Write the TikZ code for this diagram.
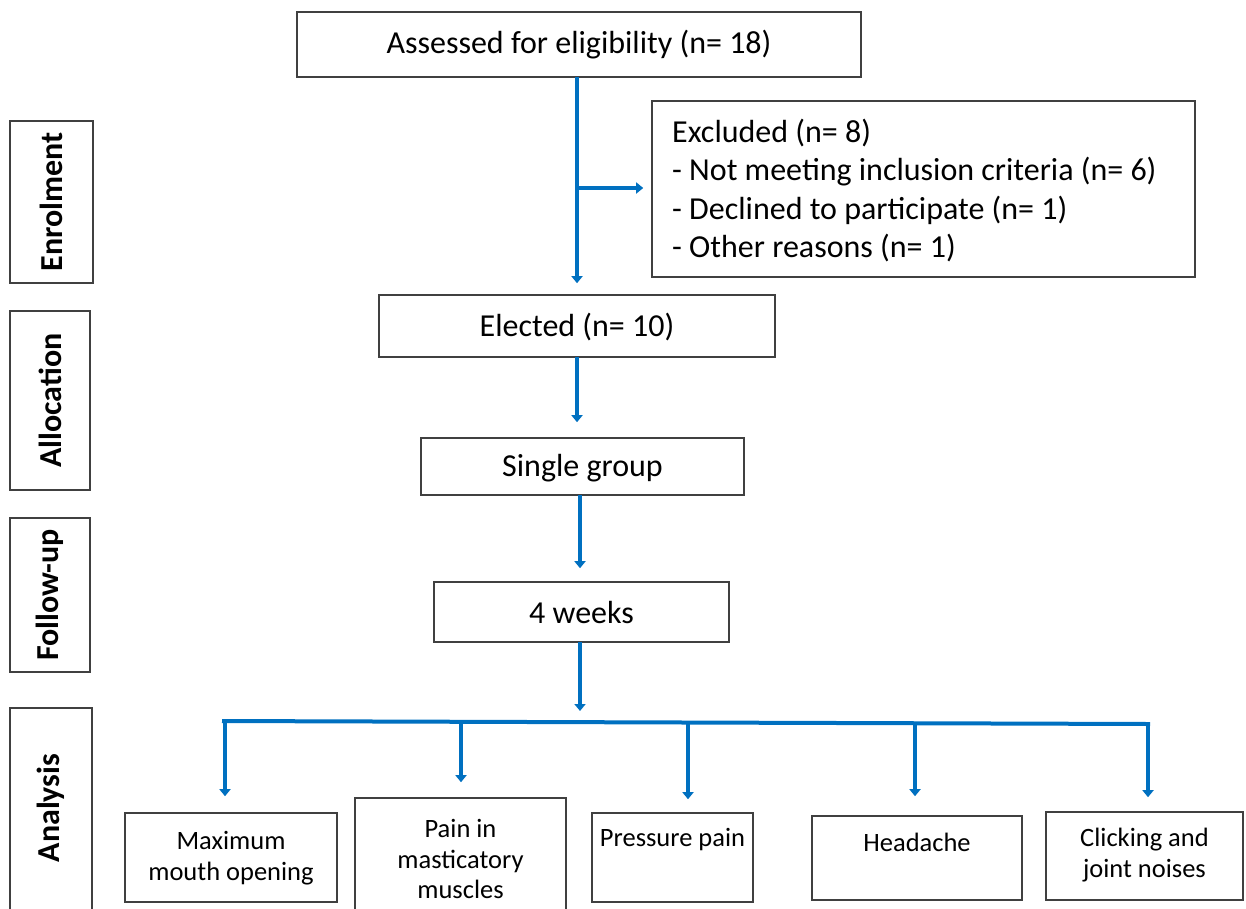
\documentclass[tikz,border=0pt]{standalone}
\usepackage{fontspec}
\setmainfont{Carlito}
\usetikzlibrary{arrows.meta,calc}
\definecolor{cblue}{RGB}{0,112,192}
\definecolor{cgray}{RGB}{64,64,64}
\tikzset{
  box/.style={draw=cgray, line width=1.6pt, fill=white, inner sep=0pt},
  maintext/.style={font=\fontsize{32}{38.5}\selectfont, inner sep=0pt},
  smalltext/.style={font=\fontsize{26.5}{30.5}\selectfont, inner sep=0pt, align=center},
  sidetext/.style={font=\fontsize{32}{36}\selectfont\bfseries, rotate=90, inner sep=0pt},
  arr/.style={draw=cblue, line width=4pt, -{Triangle[width=11pt,length=7pt]}},
  bus/.style={draw=cblue, line width=4pt}
}
\begin{document}
\begin{tikzpicture}[x=1pt,y=-1pt]
\useasboundingbox (0,0) rectangle (1246,908);
% side boxes
\node[box, minimum width=83, minimum height=162] (enr) at (51.5,202) {};
\node[sidetext] (enrt) at (enr.center) {Enrolment};
\node[box, minimum width=80, minimum height=179] (all) at (50,400.5) {};
\node[sidetext] (allt) at (all.center) {Allocation};
\node[box, minimum width=80, minimum height=154] (fol) at (50,595) {};
\node[sidetext] (folt) at (fol.center) {Follow-up};
\node[box, minimum width=82, minimum height=207] (ana) at (51,811.5) {};
\node[sidetext] (anat) at (51,808) {Analysis};
% main boxes
\node[box, minimum width=564, minimum height=65] (top) at (579,44.5) {};
\node[maintext] (topt) at (579,45) {Assessed for eligibility (n= 18)};
\node[box, minimum width=543, minimum height=176] (exc) at (923.5,189) {};
\node[maintext, anchor=west, align=left] (exct) at (672,190.5) {Excluded (n= 8)\\- Not meeting inclusion criteria (n= 6)\\- Declined to participate (n= 1)\\- Other reasons (n= 1)};
\node[box, minimum width=396, minimum height=62] (ele) at (577,326) {};
\node[maintext] (elet) at (577,327) {Elected (n= 10)};
\node[box, minimum width=323, minimum height=57] (sgl) at (582.5,466.5) {};
\node[maintext] (sglt) at (582.5,468) {Single group};
\node[box, minimum width=295, minimum height=60] (wk) at (581.5,612) {};
\node[maintext] (wkt) at (581.5,612) {4 weeks};
% outcome boxes
\node[box, minimum width=212, minimum height=89] (mmo) at (231,857.5) {};
\node[smalltext] (mmot) at (231,858) {Maximum\\mouth opening};
\node[box, minimum width=211, minimum height=120] (pain) at (460.5,858) {};
\node[smalltext] (paint) at (460.5,859) {Pain in\\masticatory\\muscles};
\node[box, minimum width=161, minimum height=89] (pres) at (672.5,857.5) {};
\node[smalltext] (prest) at (672.5,840) {Pressure pain};
\node[box, minimum width=210, minimum height=84] (head) at (917,858) {};
\node[smalltext] (headt) at (917,842) {Headache};
\node[box, minimum width=197, minimum height=88] (clk) at (1144.5,856) {};
\node[smalltext] (clkt) at (1144.5,855) {Clicking and\\joint noises};
% connectors
\coordinate (v0) at (577,77);
\coordinate (br) at (577,188);
\draw[arr, shorten >=11pt] (v0) -- (v0 |- ele.north);
\draw[arr, shorten >=8pt] (br) -- (br -| exc.west);
\coordinate (v1) at (577,357);
\draw[arr, shorten >=15pt] (v1) -- (v1 |- sgl.north);
\coordinate (v2) at (580,495);
\draw[arr, shorten >=13pt] (v2) -- (v2 |- wk.north);
\coordinate (v3) at (580,642);
\coordinate (busC) at (580,722);
\draw[arr, shorten >=11pt] (v3) -- (busC);
\coordinate (busL) at (222,721);
\coordinate (busR) at (1150,724);
\draw[bus] (busL) -- (busR);
\coordinate (d1) at (225,721);
\coordinate (d2) at (461,722);
\coordinate (d3) at (688,723);
\coordinate (d4) at (915,723);
\coordinate (d5) at (1148,724);
\draw[arr, shorten >=16pt] (d1) -- (d1 |- mmo.north);
\draw[arr, shorten >=15pt] (d2) -- (d2 |- pain.north);
\draw[arr, shorten >=13pt] (d3) -- (d3 |- pres.north);
\draw[arr, shorten >=19pt] (d4) -- (d4 |- head.north);
\draw[arr, shorten >=14pt] (d5) -- (d5 |- clk.north);
\end{tikzpicture}
\end{document}
